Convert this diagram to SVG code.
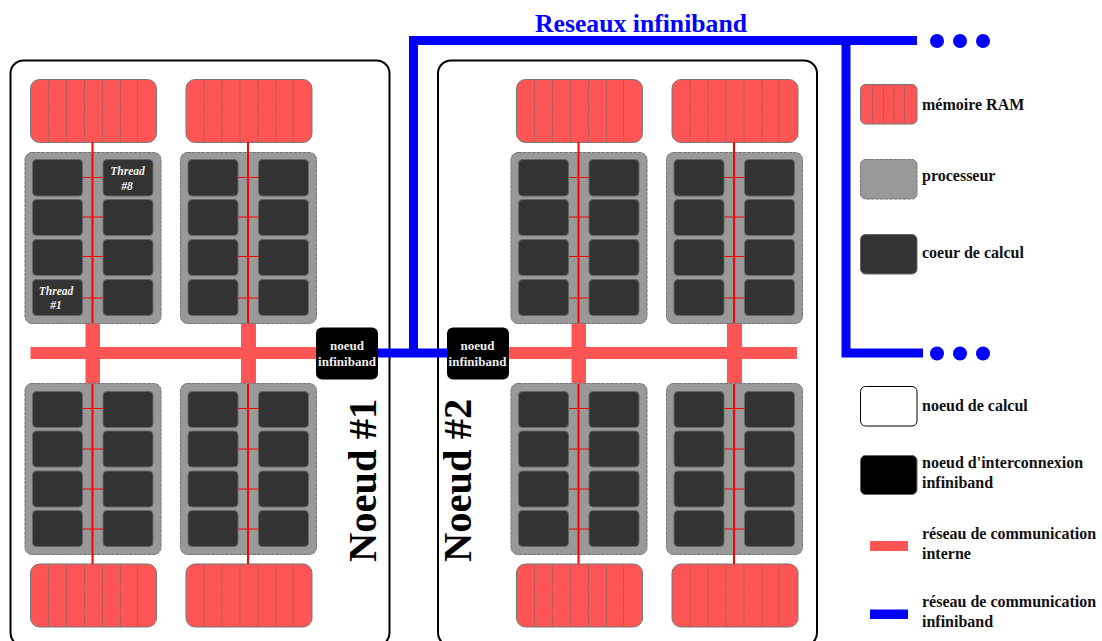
<svg xmlns="http://www.w3.org/2000/svg" xmlns:xlink="http://www.w3.org/1999/xlink" width="1102" height="641" viewBox="0 0 1102 641">
<style>
text{font-family:"Liberation Serif","Times New Roman",serif;font-weight:bold}
.ram{fill:#f55;stroke:#777;stroke-width:1}
.div{stroke:#666;stroke-width:.7;stroke-dasharray:2 1;fill:none}
.cpu{fill:#999;stroke:#777;stroke-width:1;stroke-dasharray:4 .6}
.core{fill:#333;stroke:#666;stroke-width:1}
.node{fill:#fff;stroke:#000;stroke-width:2}
.ib{fill:#000}
.red{stroke:#f00;fill:none}
.bus{fill:#f55}
.blue{stroke:#00f;stroke-width:9;fill:none}
.dot{fill:#00f}
.ibt{fill:#eee;font-size:13px;text-anchor:middle}
.th{fill:#eee;font-size:11.500px;font-style:italic;text-anchor:middle}
.lg{fill:#111;font-size:16px}
.big{fill:#000;font-size:40.500px}
</style>
<defs>
<g id="ramshape">
<rect class="ram" x="30.500" y="79.500" width="126" height="63" rx="9"/>
<path class="div" d="M48.500 80V142M66.500 80V142M84.500 80V142M102.500 80V142M120.500 80V142M137.500 80V142"/>
</g>
<g id="sockettop">
<use xlink:href="#ramshape"/>
<rect class="cpu" x="25" y="152.500" width="136" height="171" rx="7"/>
<rect class="core" x="32.500" y="159.500" width="50" height="36.500" rx="4"/>
<rect class="core" x="103" y="159.500" width="50" height="36.500" rx="4"/>
<rect class="core" x="32.500" y="199.500" width="50" height="36" rx="4"/>
<rect class="core" x="103" y="199.500" width="50" height="36" rx="4"/>
<rect class="core" x="32.500" y="239.500" width="50" height="36" rx="4"/>
<rect class="core" x="103" y="239.500" width="50" height="36" rx="4"/>
<rect class="core" x="32.500" y="279.500" width="50" height="36" rx="4"/>
<rect class="core" x="103" y="279.500" width="50" height="36" rx="4"/>
<path class="red" stroke-width="2" d="M92.500 142V323"/>
<path class="red" stroke-width="1" d="M83 177.500H103M83 217H103M83 256.500H103M83 298H103"/>
</g>
<g id="socketbottom">
<use xlink:href="#ramshape" transform="translate(0 484.500)"/>
<rect class="cpu" x="25" y="383.500" width="136" height="171" rx="7"/>
<rect class="core" x="32.500" y="391.500" width="50" height="36" rx="4"/>
<rect class="core" x="103" y="391.500" width="50" height="36" rx="4"/>
<rect class="core" x="32.500" y="431" width="50" height="36" rx="4"/>
<rect class="core" x="103" y="431" width="50" height="36" rx="4"/>
<rect class="core" x="32.500" y="471" width="50" height="36" rx="4"/>
<rect class="core" x="103" y="471" width="50" height="36" rx="4"/>
<rect class="core" x="32.500" y="510.500" width="50" height="36" rx="4"/>
<rect class="core" x="103" y="510.500" width="50" height="36" rx="4"/>
<path class="red" stroke-width="2" d="M92.500 384V564"/>
<path class="red" stroke-width="1" d="M83 408.500H103M83 449H103M83 489H103M83 529H103"/>
</g>
</defs>

<g id="noeud1">
<rect class="node" x="10.500" y="60.500" width="379" height="585.500" rx="13"/>
<rect class="bus" x="85.500" y="323" width="14.500" height="60"/>
<rect class="bus" x="241" y="323" width="15" height="60"/>
<rect class="bus" x="30.500" y="347" width="287" height="12"/>
<use xlink:href="#sockettop"/>
<use xlink:href="#sockettop" transform="translate(155.500 0)"/>
<use xlink:href="#socketbottom"/>
<use xlink:href="#socketbottom" transform="translate(155.500 0)"/>
<text class="th" x="127.500" y="175">Thread</text>
<text class="th" x="127" y="190">#8</text>
<text class="th" x="56" y="295">Thread</text>
<text class="th" x="56" y="309">#1</text>
<text class="big" transform="translate(376 562) rotate(-90)">Noeud #1</text>
</g>

<g id="noeud2">
<rect class="node" x="438" y="60.500" width="379" height="585.500" rx="13"/>
<rect class="bus" x="571.500" y="323" width="14.500" height="60"/>
<rect class="bus" x="727" y="323" width="15" height="60"/>
<rect class="bus" x="508" y="347" width="289" height="12"/>
<use xlink:href="#sockettop" transform="translate(486 0)"/>
<use xlink:href="#sockettop" transform="translate(641.500 0)"/>
<use xlink:href="#socketbottom" transform="translate(486 0)"/>
<use xlink:href="#socketbottom" transform="translate(641.500 0)"/>
<text class="big" transform="translate(471 562) rotate(-90)">Noeud #2</text>
</g>

<g id="connectors">
<path class="blue" d="M378 353H447M413.500 353V40.500H917M846 40.500V353H923"/>
<circle class="dot" cx="937" cy="41" r="7"/>
<circle class="dot" cx="960" cy="41" r="7"/>
<circle class="dot" cx="983" cy="41" r="7"/>
<circle class="dot" cx="937" cy="353.500" r="7"/>
<circle class="dot" cx="960" cy="353.500" r="7"/>
<circle class="dot" cx="983" cy="353.500" r="7"/>
</g>

<g id="ib1">
<rect class="ib" x="316" y="327.500" width="62" height="52" rx="6"/>
<text class="ibt" x="347" y="350">noeud</text>
<text class="ibt" x="347" y="366">infiniband</text>
</g>
<g id="ib2">
<rect class="ib" x="447" y="327.500" width="62" height="52" rx="6"/>
<text class="ibt" x="477.500" y="350">noeud</text>
<text class="ibt" x="477.500" y="366">infiniband</text>
</g>

<g id="titre"><text x="535" y="32" fill="#00f" font-size="25.700">Reseaux infiniband</text></g>

<g id="legende-ram">
<rect class="ram" x="860.500" y="84.500" width="56.500" height="39.500" rx="5"/>
<path class="div" d="M872.500 85V124M883.500 85V124M894 85V124M904.500 85V124"/>
<text class="lg" x="922" y="110">mémoire RAM</text>
</g>
<g id="legende-processeur">
<rect class="cpu" x="860.500" y="159.500" width="56.500" height="39.500" rx="5"/>
<text class="lg" x="922" y="181">processeur</text>
</g>
<g id="legende-coeur">
<rect class="core" x="860.500" y="234.500" width="56.500" height="39.500" rx="5"/>
<text class="lg" x="922" y="258">coeur de calcul</text>
</g>
<g id="legende-noeud">
<rect x="860.500" y="386.500" width="56.500" height="39.500" rx="5" fill="#fff" stroke="#000" stroke-width="1"/>
<text class="lg" x="922" y="411">noeud de calcul</text>
</g>
<g id="legende-ib">
<rect x="860.500" y="455.500" width="56.500" height="39" rx="5" fill="#000" stroke="#666"/>
<text class="lg" x="922" y="468">noeud d'interconnexion</text>
<text class="lg" x="922" y="488">infiniband</text>
</g>
<g id="legende-interne">
<rect class="bus" x="870" y="541" width="38" height="10"/>
<text class="lg" x="922" y="539">réseau de communication</text>
<text class="lg" x="922" y="559">interne</text>
</g>
<g id="legende-infiniband">
<rect x="870" y="609.500" width="38" height="9.500" fill="#00f"/>
<text class="lg" x="922" y="607">réseau de communication</text>
<text class="lg" x="922" y="627">infiniband</text>
</g>
</svg>
